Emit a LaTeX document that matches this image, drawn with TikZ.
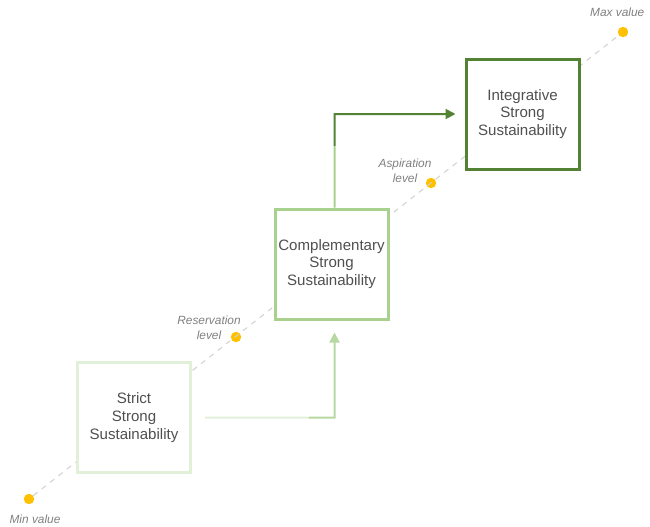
\documentclass[tikz,border=0pt]{standalone}
\usepackage{fontspec}
\setmainfont{Liberation Sans}
\usetikzlibrary{arrows.meta,calc}
\definecolor{g1}{HTML}{E2F0D9}
\definecolor{g2}{HTML}{A9D18E}
\definecolor{g3}{HTML}{548235}
\definecolor{txt}{HTML}{505050}
\definecolor{lbl}{HTML}{808080}
\definecolor{dot}{HTML}{FFC000}
\definecolor{dsh}{HTML}{D0D0D0}
\begin{document}
\begin{tikzpicture}[x=0.75pt,y=-0.75pt,
 box/.style={draw,line width=2.25pt,fill=white,minimum width=84.75pt,minimum height=82.5pt,inner sep=0pt,align=center,font=\fontsize{11.3}{13.2}\selectfont,text=txt},
 lvl/.style={font=\fontsize{8.9}{11.2}\selectfont\itshape,text=lbl,align=center},
 pt/.style={circle,fill=dot,inner sep=0pt,minimum size=7.8pt},
 conn/.style={line width=1.5pt,line join=miter},
 tip/.style={-{Triangle[length=7.5pt,width=7.5pt]}}]
\useasboundingbox (0,0) rectangle (650,526);
\node[pt] (mn) at (29,499) {};
\node[pt] (mx) at (623,32) {};
\node[pt] (rl) at (236,337) {};
\node[pt] (al) at (431,183) {};
\draw[dsh,line width=0.75pt,dash pattern=on 4pt off 4pt] (mn) -- (mx);
\node[box,draw=g1] (s) at (134,417.5) {Strict\\Strong\\Sustainability};
\node[box,draw=g2] (c) at (331.5,264) {Complementary\\Strong\\Sustainability};
\node[box,draw=g3] (i) at (522.5,114) {Integrative\\Strong\\Sustainability};
\node[lvl] (mnl) at (35,519) {Min value};
\node[lvl,anchor=east] (mxl) at (649,12) {Max value};
\node[lvl] (rll) at (209,327.5) {Reservation\\level};
\node[lvl] (all) at (405,170.5) {Aspiration\\level};
% connector 1
\coordinate (k1) at ($(c.south |- s.east)+(3,0)$);
\coordinate (a1) at ($(s.east)+(13,0)$);
\coordinate (t1) at ($(c.south)+(3,12)$);
\coordinate (m1) at ($(a1)!0.8!(k1)$);
\draw[conn,g1] (a1) -- (m1);
\draw[conn,tip,g2!75!g1] (m1) -- (k1) -- (t1);
% connector 2
\coordinate (b2) at ($(c.north)+(3,0)$);
\coordinate (k2) at (b2 |- i.west);
\coordinate (m2) at ($(b2)!0.66!(k2)$);
\coordinate (t2) at ($(i.west)+(-9,0)$);
\draw[conn,g2] (b2) -- (m2);
\draw[conn,tip,g3] (m2) -- (k2) -- (t2);
\end{tikzpicture}
\end{document}
